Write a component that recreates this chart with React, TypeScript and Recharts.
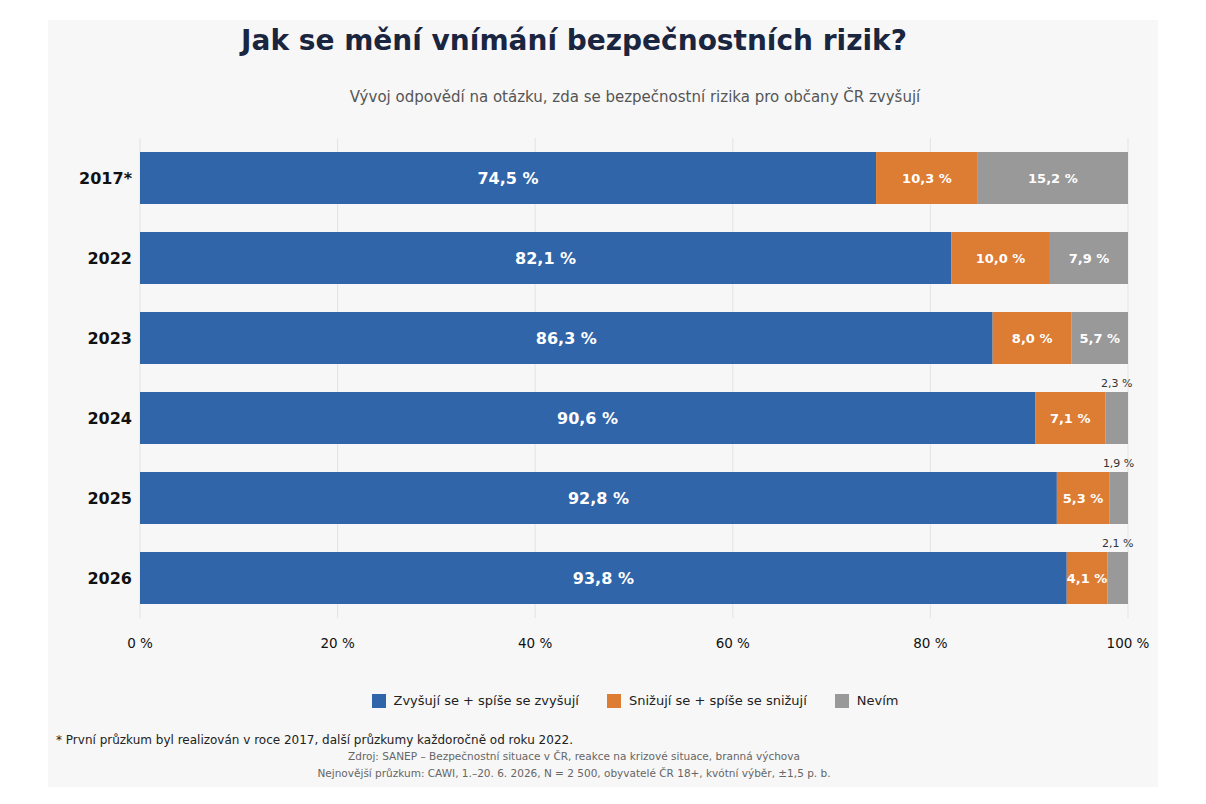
import React from 'react';
import { BarChart, Bar, XAxis, YAxis, CartesianGrid, LabelList } from 'recharts';

const years = ['2017*', '2022', '2023', '2024', '2025', '2026'];
const increase = [74.5, 82.1, 86.3, 90.6, 92.8, 93.8];
const decrease = [10.3, 10.0, 8.0, 7.1, 5.3, 4.1];
const dontKnow = [15.2, 7.9, 5.7, 2.3, 1.9, 2.1];
const xTicks = [0, 20, 40, 60, 80, 100];

const series = [
  { key: 'increase', name: 'Zvyšují se + spíše se zvyšují', color: '#3065aa' },
  { key: 'decrease', name: 'Snižují se + spíše se snižují', color: '#dd7c33' },
  { key: 'dontKnow', name: 'Nevím', color: '#999999' },
];

const data = years.map((year, i) => ({
  year,
  increase: increase[i],
  decrease: decrease[i],
  dontKnow: dontKnow[i],
}));

const FONT = '"DejaVu Sans", sans-serif';
const fmt = (v: number) => `${v.toFixed(1).replace('.', ',')} %`;

function insideLabel(size: number, minWidth: number) {
  return (props: any) => {
    const { x, y, width, height, value } = props;
    if (width < minWidth) {
      return (
        <text x={x + width / 2} y={y - 5} textAnchor="middle" fontSize={11} fill="#333" fontFamily={FONT}>
          {fmt(value)}
        </text>
      );
    }
    return (
      <text x={x + width / 2} y={y + height / 2} dy="0.35em" textAnchor="middle" fontSize={size}
        fontWeight="bold" fill="#fff" fontFamily={FONT}>
        {fmt(value)}
      </text>
    );
  };
}

export default function App() {
  return (
    <div style={{ position: 'absolute', left: 0, top: 0, width: 1206, height: 804, background: '#fff', fontFamily: FONT }}>
      <div style={{ position: 'absolute', left: 48, top: 20, width: 1110, height: 767, background: '#f7f7f7' }} />
      <div style={{ position: 'absolute', left: 0, width: 1148, top: 24, textAlign: 'center', fontSize: 28, fontWeight: 'bold', color: '#1a2540' }}>
        Jak se mění vnímání bezpečnostních rizik?
      </div>
      <div style={{ position: 'absolute', left: 0, width: 1270, top: 88, textAlign: 'center', fontSize: 15, color: '#555' }}>
        Vývoj odpovědí na otázku, zda se bezpečnostní rizika pro občany ČR zvyšují
      </div>
      <div style={{ position: 'absolute', left: 0, top: 0 }}>
        <BarChart width={1206} height={804} data={data} layout="vertical"
          margin={{ top: 138, right: 78, bottom: 156, left: 60 }}>
          <CartesianGrid horizontal={false} stroke="#e3e3e3" />
          <XAxis type="number" domain={[0, 100]} ticks={xTicks} tickFormatter={(v) => `${v} %`}
            axisLine={false} tickLine={false} tickMargin={14} height={30}
            tick={{ fontSize: 13.5, fill: '#111', fontFamily: FONT }} />
          <YAxis type="category" dataKey="year" width={80} axisLine={false} tickLine={false}
            tick={{ fontSize: 16, fontWeight: 'bold', fill: '#111', fontFamily: FONT }} />
          {series.map((s) => (
            <Bar key={s.key} dataKey={s.key} name={s.name} stackId="a" fill={s.color} barSize={52} isAnimationActive={false}>
              <LabelList dataKey={s.key} content={insideLabel(s.key === 'increase' ? 16 : 13, s.key === 'dontKnow' ? 40 : 10)} />
            </Bar>
          ))}
        </BarChart>
      </div>
      <div style={{ position: 'absolute', left: 0, width: 1270, top: 693, display: 'flex', justifyContent: 'center', gap: 28, fontSize: 13, color: '#222' }}>
        {series.map((s) => (
          <span key={s.key} style={{ display: 'flex', alignItems: 'center', gap: 8 }}>
            <span style={{ width: 14, height: 14, background: s.color, display: 'inline-block' }} />
            {s.name}
          </span>
        ))}
      </div>
      <div style={{ position: 'absolute', left: 56, top: 733, fontSize: 12, color: '#222' }}>
        * První průzkum byl realizován v roce 2017, další průzkumy každoročně od roku 2022.
      </div>
      <div style={{ position: 'absolute', left: 0, width: 1148, top: 750, textAlign: 'center', fontSize: 10.5, color: '#666' }}>
        Zdroj: SANEP – Bezpečnostní situace v ČR, reakce na krizové situace, branná výchova
      </div>
      <div style={{ position: 'absolute', left: 0, width: 1148, top: 767, textAlign: 'center', fontSize: 10.5, color: '#666' }}>
        Nejnovější průzkum: CAWI, 1.–20. 6. 2026, N = 2 500, obyvatelé ČR 18+, kvótní výběr, ±1,5 p. b.
      </div>
    </div>
  );
}
